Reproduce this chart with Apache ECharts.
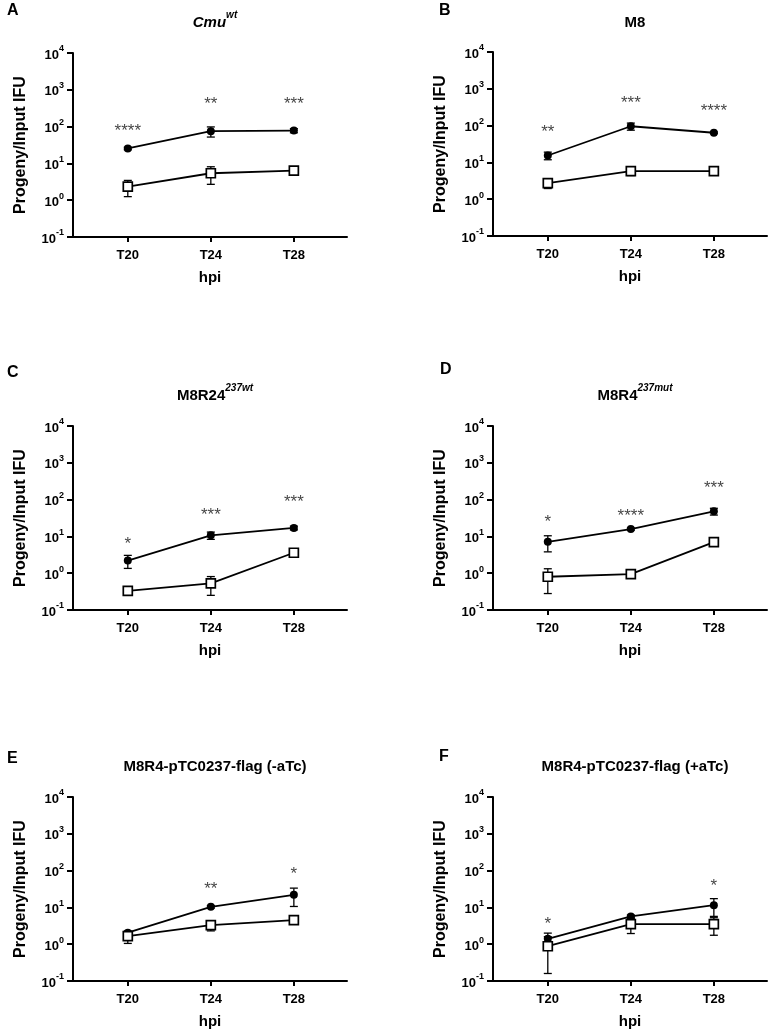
<!DOCTYPE html>
<html>
<head>
<meta charset="utf-8">
<script src="https://cdn.jsdelivr.net/npm/echarts@6/dist/echarts.min.js"></script>
<style>
html,body{margin:0;padding:0;background:#fff;}
#chart{width:772px;height:1031px;}
</style>
</head>
<body>
<div id="chart"></div>
<script>
// ---------------- data ----------------
const categories = ['T20', 'T24', 'T28'];
const yTickValues = [0.1, 1, 10, 100, 1000, 10000];

const A_filled = [25.5, 75, 78];
const A_filledSD = [2, 23, 10];
const A_open = [2.35, 5.4, 6.4];
const A_openSD = [1.1, 2.7, 1.6];
const A_stars = ['****', '**', '***'];
const A_starY = [96, 510, 510];

const B_filled = [15.4, 96, 64];
const B_filledSD = [3.6, 21, 3];
const B_open = [2.75, 5.8, 5.8];
const B_openSD = [0.8, 1.4, 0.5];
const B_stars = ['**', '***', '****'];
const B_starY = [82, 504, 305];

const C_filled = [2.2, 10.7, 17];
const C_filledSD = [0.85, 2.4, 2];
const C_open = [0.33, 0.53, 3.6];
const C_openSD = [0.03, 0.28, 0.5];
const C_stars = ['*', '***', '***'];
const C_starY = [8.0, 47, 108];

const D_filled = [7.1, 15.8, 48];
const D_filledSD = [3.3, 1, 10];
const D_open = [0.8, 0.94, 7.0];
const D_openSD = [0.52, 0.1, 0.6];
const D_stars = ['*', '****', '***'];
const D_starY = [31, 44, 260];

const E_filled = [2.05, 10.4, 22];
const E_filledSD = [0.2, 0.8, 11.4];
const E_open = [1.65, 3.3, 4.5];
const E_openSD = [0.6, 1.0, 0.3];
const E_stars = ['', '**', '*'];
const E_starY = [null, 40, 100];

const F_filled = [1.4, 5.7, 11.5];
const F_filledSD = [0.6, 0.5, 5.8];
const F_open = [0.88, 3.5, 3.5];
const F_openSD = [0.72, 1.55, 1.75];
const F_stars = ['*', '', '*'];
const F_starY = [4.5, null, 48];

const panelLetters = ['A', 'B', 'C', 'D', 'E', 'F'];
const panelTitles = [
  '{i|Cmu}{si|wt}',
  '{n|M8}',
  '{n|M8R24}{si|237wt}',
  '{n|M8R4}{si|237mut}',
  '{n|M8R4-pTC0237-flag (-aTc)}',
  '{n|M8R4-pTC0237-flag (+aTc)}'
];
const yAxisName = 'Progeny/Input IFU';
const xAxisName = 'hpi';

// ---------------- layout ----------------
const FONT = "'Liberation Sans', Arial, Helvetica, sans-serif";
const panelData = [
  [A_filled, A_filledSD, A_open, A_openSD, A_stars, A_starY],
  [B_filled, B_filledSD, B_open, B_openSD, B_stars, B_starY],
  [C_filled, C_filledSD, C_open, C_openSD, C_stars, C_starY],
  [D_filled, D_filledSD, D_open, D_openSD, D_stars, D_starY],
  [E_filled, E_filledSD, E_open, E_openSD, E_stars, E_starY],
  [F_filled, F_filledSD, F_open, F_openSD, F_stars, F_starY]
];
const gridPos = [
  {left: 73, top: 53}, {left: 493, top: 52},
  {left: 73, top: 426}, {left: 493, top: 426},
  {left: 73, top: 797}, {left: 493, top: 797}
];
const GW = 274, GH = 184;
const titleTops = [5, 5, 378, 378, 749, 749];
const letterPos = [
  {left: 2, top: -2}, {left: 434, top: -2},
  {left: 2, top: 360}, {left: 435, top: 357},
  {left: 2, top: 746}, {left: 434, top: 744}
];

const grids = [], xAxes = [], yAxes = [], series = [], titles = [];

function errItem(params, api) {
  const x = api.value(0), m = api.value(1), sd = api.value(2);
  const hi = api.coord([x, m + sd]);
  const lo = api.coord([x, Math.max(m - sd, 1e-3)]);
  const c = 4;
  const st = {stroke: '#000', lineWidth: 1.3};
  return {
    type: 'group',
    children: [
      {type: 'line', shape: {x1: hi[0], y1: hi[1], x2: lo[0], y2: lo[1]}, style: st},
      {type: 'line', shape: {x1: hi[0] - c, y1: hi[1], x2: hi[0] + c, y2: hi[1]}, style: st},
      {type: 'line', shape: {x1: lo[0] - c, y1: lo[1], x2: lo[0] + c, y2: lo[1]}, style: st}
    ]
  };
}

panelData.forEach((pd, i) => {
  const [filled, filledSD, open, openSD, stars, starY] = pd;
  const g = gridPos[i];
  grids.push({left: g.left, top: g.top, width: GW, height: GH, containLabel: false});
  xAxes.push({
    gridIndex: i, type: 'value', min: -0.66, max: 2.64,
    axisLine: {show: true, onZero: false, lineStyle: {color: '#000', width: 2}},
    axisTick: {show: true, customValues: [0, 1, 2], length: 5, lineStyle: {color: '#000', width: 2}},
    axisLabel: {show: true, customValues: [0, 1, 2], formatter: v => categories[Math.round(v)],
      color: '#000', fontFamily: FONT, fontWeight: 'bold', fontSize: 13, margin: 12},
    splitLine: {show: false},
    name: xAxisName, nameLocation: 'middle', nameGap: 33,
    nameTextStyle: {color: '#000', fontFamily: FONT, fontWeight: 'bold', fontSize: 15}
  });
  yAxes.push({
    gridIndex: i, type: 'log', logBase: 10, min: 0.1, max: 10000,
    axisLine: {show: true, onZero: false, lineStyle: {color: '#000', width: 2}},
    axisTick: {show: true, length: 6, lineStyle: {color: '#000', width: 2}},
    axisLabel: {
      show: true, margin: 9,
      formatter: v => '{b|10}{s|' + Math.round(Math.log10(v)) + '}',
      rich: {
        b: {fontFamily: FONT, fontWeight: 'bold', fontSize: 13, color: '#000', lineHeight: 17, verticalAlign: 'bottom'},
        s: {fontFamily: FONT, fontWeight: 'bold', fontSize: 9, color: '#000', lineHeight: 11, verticalAlign: 'top'}
      }
    },
    splitLine: {show: false},
    name: yAxisName, nameLocation: 'middle', nameGap: 44,
    nameTextStyle: {color: '#000', fontFamily: FONT, fontWeight: 'bold', fontSize: 16}
  });
  // error bars
  series.push({
    type: 'custom', xAxisIndex: i, yAxisIndex: i, z: 1, renderItem: errItem,
    encode: {x: 0, y: 1}, silent: true,
    data: filled.map((m, k) => [k, m, filledSD[k]])
  });
  series.push({
    type: 'custom', xAxisIndex: i, yAxisIndex: i, z: 1, renderItem: errItem,
    encode: {x: 0, y: 1}, silent: true,
    data: open.map((m, k) => [k, m, openSD[k]])
  });
  // lines
  series.push({
    type: 'line', xAxisIndex: i, yAxisIndex: i, z: 3,
    data: filled.map((m, k) => [k, m]),
    symbol: 'circle', symbolSize: 8, showAllSymbol: true,
    lineStyle: {color: '#000', width: 1.8},
    itemStyle: {color: '#000', borderColor: '#000', borderWidth: 0},
    animation: false
  });
  series.push({
    type: 'line', xAxisIndex: i, yAxisIndex: i, z: 4,
    data: open.map((m, k) => [k, m]),
    symbol: 'rect', symbolSize: 9, showAllSymbol: true,
    lineStyle: {color: '#000', width: 1.8},
    itemStyle: {color: '#fff', borderColor: '#000', borderWidth: 1.7},
    animation: false
  });
  // significance stars
  const starData = [];
  stars.forEach((s, k) => { if (s) starData.push([k, starY[k], s]); });
  series.push({
    type: 'scatter', xAxisIndex: i, yAxisIndex: i, z: 5,
    data: starData, symbolSize: 0, silent: true,
    label: {show: true, position: 'inside', offset: [0, 4], formatter: p => p.value[2],
      fontFamily: FONT, fontSize: 17, color: '#111'},
    animation: false
  });
  // titles
  titles.push({
    text: panelTitles[i], left: g.left + GW / 2, top: titleTops[i], textAlign: 'center',
    textStyle: {
      rich: {
        i: {fontFamily: FONT, fontWeight: 'bold', fontStyle: 'italic', fontSize: 15, color: '#000', lineHeight: 20, verticalAlign: 'bottom'},
        n: {fontFamily: FONT, fontWeight: 'bold', fontSize: 15, color: '#000', lineHeight: 20, verticalAlign: 'bottom'},
        si: {fontFamily: FONT, fontWeight: 'bold', fontStyle: 'italic', fontSize: 10, color: '#000', lineHeight: 12, verticalAlign: 'top'}
      }
    }
  });
  titles.push({
    text: panelLetters[i], left: letterPos[i].left, top: letterPos[i].top,
    textStyle: {fontFamily: FONT, fontWeight: 'bold', fontSize: 16, color: '#000'}
  });
});

const chart = echarts.init(document.getElementById('chart'), null, {renderer: 'canvas'});
chart.setOption({
  backgroundColor: '#fff',
  animation: false,
  title: titles,
  grid: grids,
  xAxis: xAxes,
  yAxis: yAxes,
  series: series
});
</script>
</body>
</html>
